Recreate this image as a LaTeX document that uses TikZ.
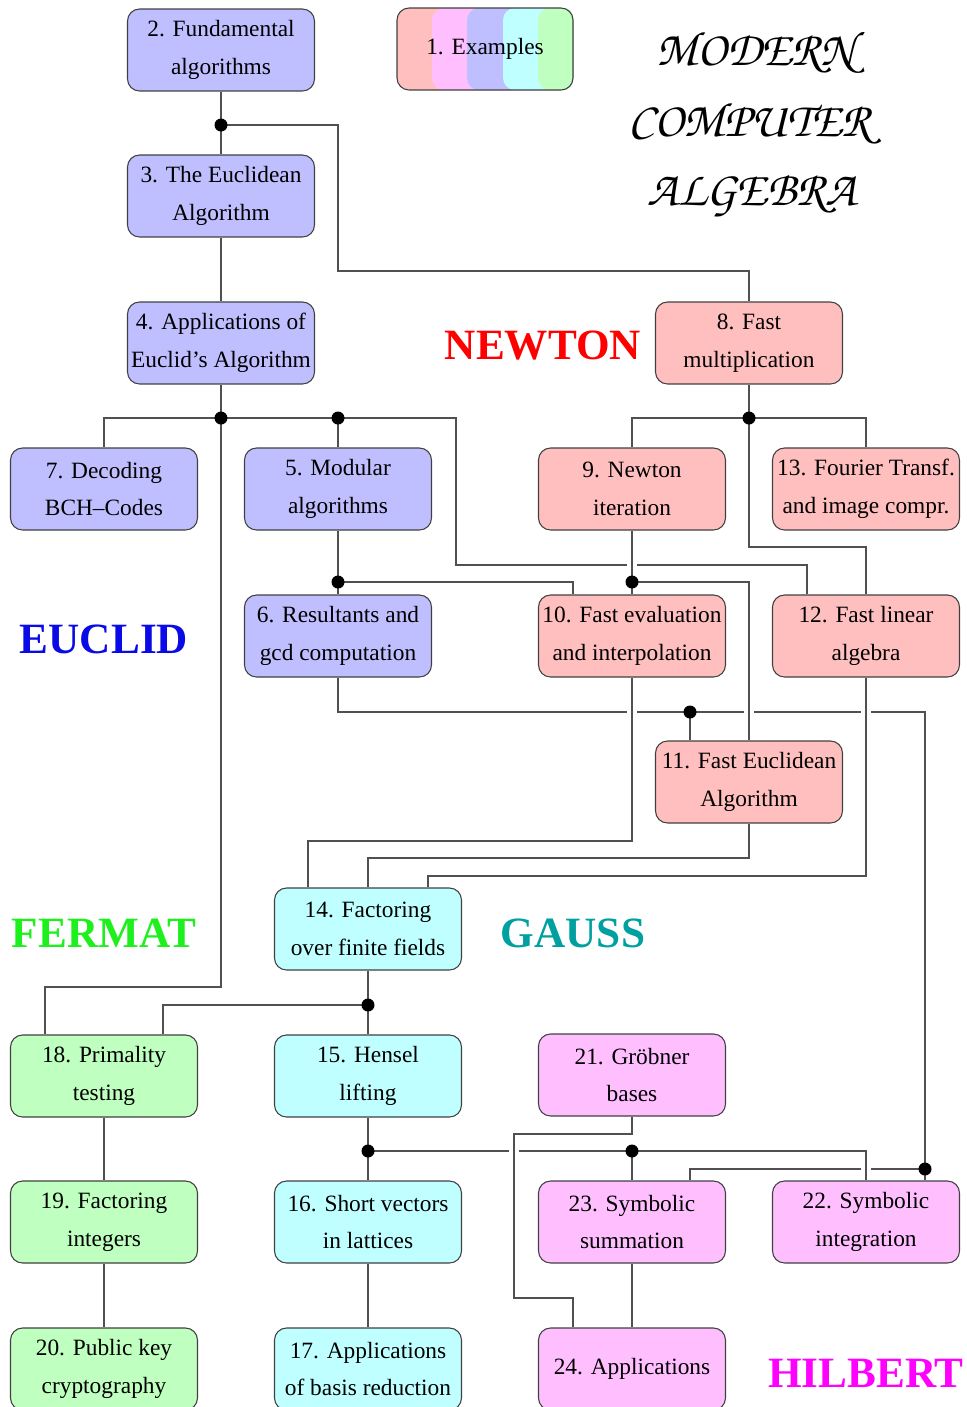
\documentclass[tikz,border=0pt]{standalone}
\usepackage[T1]{fontenc}
\usepackage{fontspec}
\setmainfont{Liberation Serif}
\newcommand{\chanceryfont}{\fontencoding{T1}\fontfamily{pzc}\fontseries{mb}\fontshape{it}\fontsize{27.8}{33}\selectfont}
\definecolor{cblue}{RGB}{191,191,255}
\definecolor{cred}{RGB}{255,191,191}
\definecolor{ccyan}{RGB}{191,255,255}
\definecolor{cgreen}{RGB}{191,255,191}
\definecolor{cmag}{RGB}{255,191,255}
\definecolor{lineg}{RGB}{80,80,80}
\definecolor{lblred}{RGB}{255,0,0}
\definecolor{lblblue}{RGB}{10,10,230}
\definecolor{lblgreen}{RGB}{30,240,30}
\definecolor{lblteal}{RGB}{0,160,160}
\definecolor{lblmag}{RGB}{255,0,255}
\begin{document}
\begin{tikzpicture}[x=0.02cm,y=-0.02cm,
  box/.style={draw=black!75, line width=0.6pt, rounded corners=0.24cm,
    minimum width=3.74cm, minimum height=1.64cm, align=center, inner sep=0pt,
    font=\fontsize{13.3}{21.6}\selectfont},
  bb/.style={box, fill=cblue}, br/.style={box, fill=cred}, bc/.style={box, fill=ccyan},
  bg/.style={box, fill=cgreen}, bm/.style={box, fill=cmag},
  conn/.style={draw=lineg, line width=0.6pt},
  over/.style={conn, preaction={draw=white, line width=5.5pt, shorten <=3pt, shorten >=3pt}},
  jdot/.style={circle, fill=black, inner sep=0pt, minimum size=0.26cm},
  region/.style={font=\fontsize{24.6}{28}\selectfont\bfseries, inner sep=0pt},
  titlestyle/.style={font=\chanceryfont, inner sep=0pt}]
\useasboundingbox (0,0) rectangle (967,1407);

% boxes
\node[bb] (n2) at (221,50) {2. Fundamental\\algorithms};
\node[bb] (n3) at (221,196) {3. The Euclidean\\Algorithm};
\node[bb] (n4) at (221,343) {4. Applications of\\Euclid’s Algorithm};
\node[br] (n8) at (749,343) {8. Fast\\multiplication};
\node[bb] (n7) at (104,489) {7. Decoding\\BCH–Codes};
\node[bb] (n5) at (338,489) {5. Modular\\algorithms};
\node[br] (n9) at (632,489) {9. Newton\\iteration};
\node[br] (n13) at (866,489) {13. Fourier Transf.\\and image compr.};
\node[bb] (n6) at (338,636) {6. Resultants and\\gcd computation};
\node[br] (n10) at (632,636) {10. Fast evaluation\\and interpolation};
\node[br] (n12) at (866,636) {12. Fast linear\\algebra};
\node[br] (n11) at (749,782) {11. Fast Euclidean\\Algorithm};
\node[bc] (n14) at (368,929) {14. Factoring\\over finite fields};
\node[bg] (n18) at (104,1076) {18. Primality\\testing};
\node[bc] (n15) at (368,1076) {15. Hensel\\lifting};
\node[bm] (n21) at (632,1075) {21. Gröbner\\bases};
\node[bg] (n19) at (104,1222) {19. Factoring\\integers};
\node[bc] (n16) at (368,1222) {16. Short vectors\\in lattices};
\node[bm] (n23) at (632,1222) {23. Symbolic\\summation};
\node[bm] (n22) at (866,1222) {22. Symbolic\\integration};
\node[bg] (n20) at (104,1369) {20. Public key\\cryptography};
\node[bc] (n17) at (368,1369) {17. Applications\\of basis reduction};
\node[bm] (n24) at (632,1369) {24. Applications};

% box 1 with stripes
\node[box, draw=none, fill=cred, minimum width=3.52cm] (n1bg) at (485,49) {};
\begin{scope}
  \clip[rounded corners=0.24cm] (n1bg.south west) rectangle (n1bg.north east);
  \foreach \c/\xx in {cmag/432, cblue/467, ccyan/503, cgreen/538}
    \fill[\c, rounded corners=0.24cm] (\xx,8) rectangle (620,90);
\end{scope}
\node[box, minimum width=3.52cm] (n1) at (485,49) {1. Examples};

% title
\node[titlestyle] (t1) at (756,53) {MODERN};
\node[titlestyle] (t2) at (750,124) {COMPUTER};
\node[titlestyle] (t3) at (752,195) {ALGEBRA};

% region labels
\node[region, text=lblred] (lnewton) at (543,346) {NEWTON};
\node[region, text=lblblue] (leuclid) at (104,639) {EUCLID};
\node[region, text=lblgreen] (lfermat) at (104,933) {FERMAT};
\node[region, text=lblteal] (lgauss) at (573,933) {GAUSS};
\node[region, text=lblmag] (lhilbert) at (866,1373) {HILBERT};

% junctions
\coordinate (j1) at (221,125);
\coordinate (j2) at (221,418);
\coordinate (j3) at (338,418);
\coordinate (j4) at (749,418);
\coordinate (j5) at (632,582);
\coordinate (j6) at (338,582);
\coordinate (j7) at (690,712);
\coordinate (j8) at (368,1005);
\coordinate (j9) at (368,1151);
\coordinate (j10) at (632,1151);
\coordinate (j11) at (925,1169);

% connectors (under)
\draw[conn] (n2) -- (n3);
\draw[conn] (j1) -| (338,271) -| (n8);
\draw[conn] (n3) -- (n4);
\draw[conn] (n4) -- (j2) -| (n7);
\draw[conn] (j2) -- (j3) -- (n5);
\draw[conn] (j3) -| (456,565) -| ([xshift=0.7cm]n12.north west);
\draw[conn] (j2) -- (221,987) -| ([xshift=0.7cm]n18.north west);
\draw[conn] (n8) -- (j4) -| (n9);
\draw[conn] (j4) -| (n13);
\draw[conn] (j4) -- (749,547) -| (n12);
\draw[conn] (n5) -- (j6) -- (n6);
\draw[conn] (j6) -| ([xshift=0.7cm]n10.north west);
\draw[conn] (n6) |- (j7) -- (j7 |- n11.north);
\draw[conn] (j7) -| (j11) -- (j11 |- n22.north);
\draw[conn] (j11) -| (j7 |- n23.north);
\draw[conn] (n11) -- (749,858) -| (n14);
\draw[conn] (n14) -- (j8) -- (n15);
\draw[conn] (j8) -| ([xshift=-0.7cm]n18.north east);
\draw[conn] (n15) -- (j9) -- (n16);
\draw[conn] (j9) -- (j10) -- (n23);
\draw[conn] (n16) -- (n17);
\draw[conn] (n23) -- (n24);
\draw[conn] (n18) -- (n19);
\draw[conn] (n19) -- (n20);

% connectors (over, with gaps in the lines they cross)
\draw[over] (n9) -- (j5) -- (n10);
\draw[over] (j5) -| (n11);
\draw[over] (n10) -- (632,841) -| ([xshift=0.68cm]n14.north west);
\draw[over] (n12) -- (866,876) -| ([xshift=-0.68cm]n14.north east);
\draw[over] (j10) -| (n22);
\draw[over] (n21) -- (632,1134) -| (514,1298) -| ([xshift=0.7cm]n24.north west);

% junction dots
\foreach \j in {j1,j2,j3,j4,j5,j6,j7,j8,j9,j10,j11}
  \node[jdot] (d\j) at (\j) {};
\end{tikzpicture}
\end{document}
